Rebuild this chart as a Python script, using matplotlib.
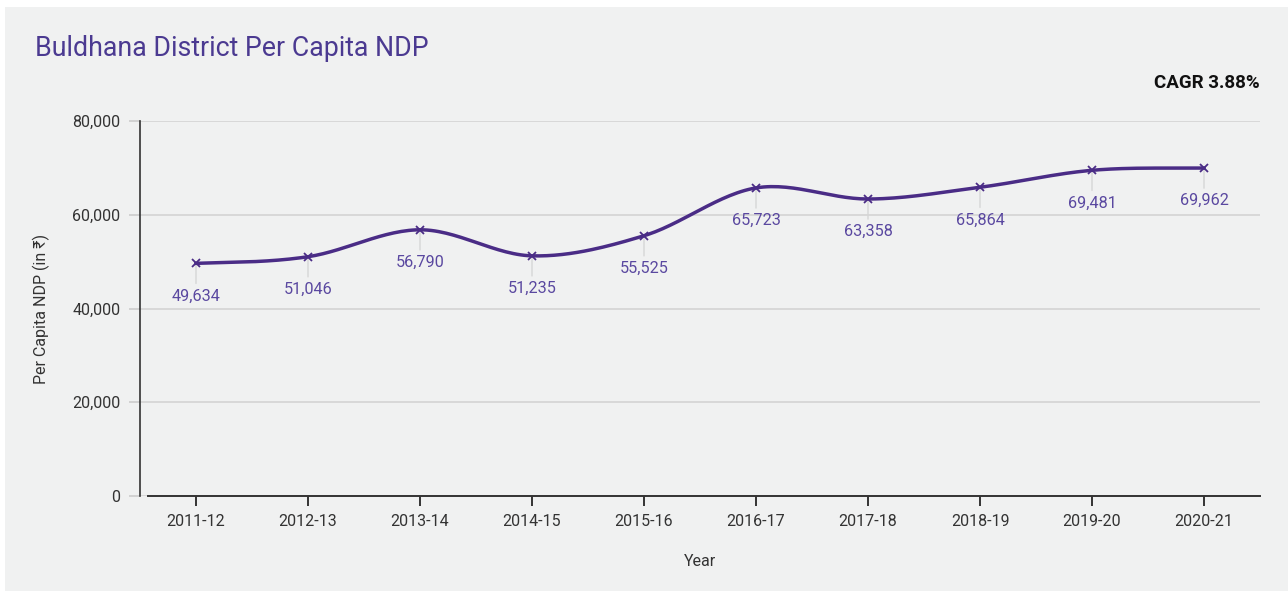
import numpy as np
import matplotlib.pyplot as plt
from matplotlib.patches import Rectangle
from matplotlib.ticker import FuncFormatter

years = ['2011-12', '2012-13', '2013-14', '2014-15', '2015-16',
         '2016-17', '2017-18', '2018-19', '2019-20', '2020-21']
ndp = [49634, 51046, 56790, 51235, 55525, 65723, 63358, 65864, 69481, 69962]
y_ticks = [0, 20000, 40000, 60000, 80000]

LINE = '#4a2c86'
LABEL = '#5a48a0'
TITLE = '#4b3a91'
BG = '#f0f1f1'

plt.rcParams['font.family'] = ['Roboto', 'DejaVu Sans']


def spline(x, y, n=30):
    # cardinal spline through the points, flat-ish tangents at the ends
    x = np.asarray(x, float)
    y = np.asarray(y, float)
    m = np.zeros_like(y)
    m[1:-1] = (y[2:] - y[:-2]) / (x[2:] - x[:-2])
    m[0] = (y[1] - y[0]) / (x[1] - x[0]) * 0.5
    m[-1] = (y[-1] - y[-2]) / (x[-1] - x[-2]) * 0.5
    xs, ys = [], []
    for i in range(len(x) - 1):
        h = x[i + 1] - x[i]
        t = np.linspace(0, 1, n, endpoint=False)
        h00 = 2 * t**3 - 3 * t**2 + 1
        h10 = t**3 - 2 * t**2 + t
        h01 = -2 * t**3 + 3 * t**2
        h11 = t**3 - t**2
        xs.append(x[i] + t * h)
        ys.append(h00 * y[i] + h10 * h * m[i] + h01 * y[i + 1] + h11 * h * m[i + 1])
    xs.append([x[-1]])
    ys.append([y[-1]])
    return np.concatenate(xs), np.concatenate(ys)


fig = plt.figure(figsize=(12.88, 5.93), dpi=100, facecolor='white')
fig.patches.append(Rectangle((5 / 1288, 2 / 593), 1283 / 1288, 584 / 593,
                             transform=fig.transFigure, facecolor=BG,
                             edgecolor='none', zorder=-10))

ax = fig.add_axes([140 / 1288, 97 / 593, 1120 / 1288, 375 / 593])
ax.set_facecolor(BG)

xpos = np.arange(len(years))
sx, sy = spline(xpos, ndp)
ax.plot(sx, sy, color=LINE, lw=2.5, zorder=3)
ax.plot(xpos, ndp, ls='none', marker='x', ms=6, mew=1.3, color=LINE, zorder=4)

for xi, v in zip(xpos, ndp):
    ax.annotate(f'{v:,}', xy=(xi, v), xytext=(0, -23.5), textcoords='offset points',
                ha='center', va='center', fontsize=11.7, color=LABEL, zorder=5)
    ax.annotate('', xy=(xi, v), xytext=(0, -14.5), textcoords='offset points',
                arrowprops=dict(arrowstyle='-', color='#d6d6d6', lw=1, shrinkA=0, shrinkB=0),
                zorder=2)

ax.set_xlim(-0.5, len(years) - 0.5)
ax.set_ylim(0, 80000)
ax.set_yticks(y_ticks)
ax.yaxis.set_major_formatter(FuncFormatter(lambda v, p: f'{int(v):,}'))
ax.set_xticks(xpos)
ax.set_xticklabels(years)
ax.grid(axis='y', color='#d4d4d4', lw=1.2)
ax.set_axisbelow(True)

for s in ['top', 'right']:
    ax.spines[s].set_visible(False)
ax.spines['left'].set_color('#333333')
ax.spines['left'].set_linewidth(1.2)
ax.spines['bottom'].set_color('#333333')
ax.spines['bottom'].set_linewidth(1.4)
ax.spines['bottom'].set_bounds(-0.43, len(years) - 0.5)

ax.tick_params(axis='y', length=8, width=1.2, color='#cccccc', labelsize=11.5,
               labelcolor='#333333', pad=6)
ax.tick_params(axis='x', length=7, width=1.4, color='#333333', labelsize=11.5,
               labelcolor='#333333', pad=6)

ax.set_xlabel('Year', fontsize=11.5, color='#333333', labelpad=18)
ax.set_ylabel('Per Capita NDP (in ₹)', fontsize=11.5, color='#333333', labelpad=16)

fig.text(35 / 1288, 1 - 49 / 593, 'Buldhana District Per Capita NDP', fontsize=19.3,
         color=TITLE, va='center', ha='left')
fig.text(1260 / 1288, 1 - 83 / 593, 'CAGR 3.88%', fontsize=13.5, fontweight='bold',
         color='#111111', va='center', ha='right')

fig.savefig('out.png', dpi=100, facecolor='white')
